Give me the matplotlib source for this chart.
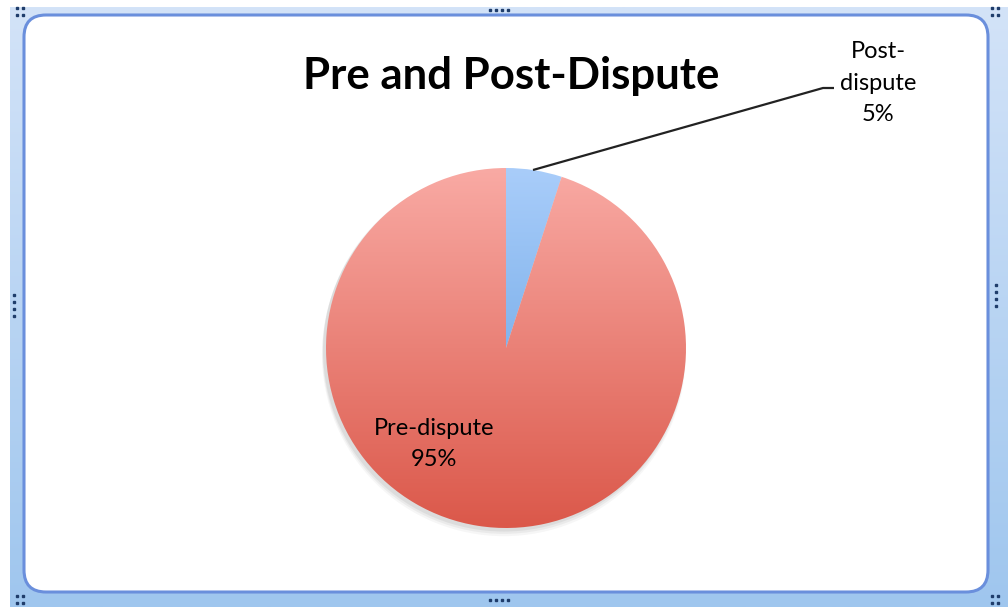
"""Pre and Post-Dispute share pie, drawn in an Excel-style chart frame."""

import matplotlib
matplotlib.use("Agg")
import matplotlib.pyplot as plt
import numpy as np
from matplotlib.colors import LinearSegmentedColormap
from matplotlib.patches import FancyBboxPatch, Rectangle

W, H, DPI = 1008, 607, 100

# ─── Data ────────────────────────────────────────────────────────────────────
labels = ["Post-\ndispute", "Pre-dispute"]
shares = [5, 95]
# (top colour, bottom colour) for each wedge's vertical gradient
wedge_grads = [("#a9cdfa", "#5a9ade"), ("#f9aaa4", "#db584a")]

TITLE = "Pre and Post-Dispute"
FONT = ["Lato", "DejaVu Sans"]

fig = plt.figure(figsize=(W / DPI, H / DPI), dpi=DPI)
fig.patch.set_facecolor("white")

# ─── Frame (pixel coordinates) ───────────────────────────────────────────────
bg = fig.add_axes([0, 0, 1, 1])
bg.set_xlim(0, W)
bg.set_ylim(H, 0)
bg.axis("off")

band_cmap = LinearSegmentedColormap.from_list("band", ["#d3e3f8", "#9fc6ee"])
band = bg.imshow(np.linspace(0, 1, 256).reshape(-1, 1), cmap=band_cmap,
                 extent=[10, W, H, 7], aspect="auto", zorder=0)
band.set_clip_path(Rectangle((10, 7), W - 10, H - 7, transform=bg.transData))

bg.add_patch(FancyBboxPatch((24, 15), 964, 577,
                            boxstyle="round,pad=0,rounding_size=22",
                            facecolor="white", edgecolor="#6a8fdc",
                            linewidth=2.2, zorder=1))

# selection handles
for hx, hy in [(20, 10), (20, 598), (995, 10), (995, 598)]:
    bg.plot([hx - 3, hx + 3, hx - 3, hx + 3], [hy - 2, hy - 2, hy + 5, hy + 5],
            ls="none", marker="s", ms=1.8, color="#1f3d6b", zorder=2)
for hx, hy, dx, dy in [(490, 10, 6, 0), (490, 600, 6, 0),
                       (14, 295, 0, 7), (996, 285, 0, 7)]:
    for k in range(4):
        bg.plot(hx + k * dx, hy + k * dy, ls="none", marker="s", ms=1.8,
                color="#1f3d6b", zorder=2)

# ─── Pie ─────────────────────────────────────────────────────────────────────
cx, cy, r = 506, 348, 180
m = 1.12  # axes half-size in pie radii, leaves room for the shadow
ax = fig.add_axes([(cx - m * r) / W, (H - cy - m * r) / H,
                   2 * m * r / W, 2 * m * r / H])
ax.axis("off")

# soft shadow under the pie
for i, a in enumerate([0.05, 0.07, 0.09]):
    off = 0.035 - i * 0.01
    ax.add_patch(plt.Circle((-0.012, -off), 1.0 + off * 0.3, color="#555555",
                            alpha=a, lw=0, zorder=0))

wedges, _ = ax.pie(shares, startangle=90, counterclock=False, radius=1.0,
                   colors=["none", "none"],
                   wedgeprops={"linewidth": 0})
grad = np.linspace(0, 1, 256).reshape(-1, 1)
for wdg, (top, bot) in zip(wedges, wedge_grads):
    cmap = LinearSegmentedColormap.from_list("g", [top, bot])
    im = ax.imshow(grad, cmap=cmap, extent=[-1, 1, -1, 1], aspect="auto",
                   zorder=1)
    im.set_clip_path(wdg)
ax.set_xlim(-m, m)
ax.set_ylim(-m, m)

# ─── Labels (overlay axes on top of the pie) ─────────────────────────────────
top = fig.add_axes([0, 0, 1, 1])
top.set_xlim(0, W)
top.set_ylim(H, 0)
top.axis("off")

top.text(511, 76, TITLE, ha="center", va="center", fontsize=31.5,
         fontweight="bold", family=FONT, color="black")

pre_label = f"{labels[1]}\n{shares[1]}%"
top.text(434, 444, pre_label, ha="center", va="center", fontsize=17,
         family=FONT, color="black", linespacing=1.63)

post_label = f"{labels[0]}\n{shares[0]}%"
top.text(878, 83, post_label, ha="center", va="center", fontsize=17,
         family=FONT, color="black", linespacing=1.6)

# leader line from the small wedge to its label
top.plot([533, 823, 834], [170, 88, 88], color="#222222", lw=1.6,
         solid_capstyle="butt")

fig.savefig("out.png", dpi=DPI, facecolor=fig.get_facecolor())
